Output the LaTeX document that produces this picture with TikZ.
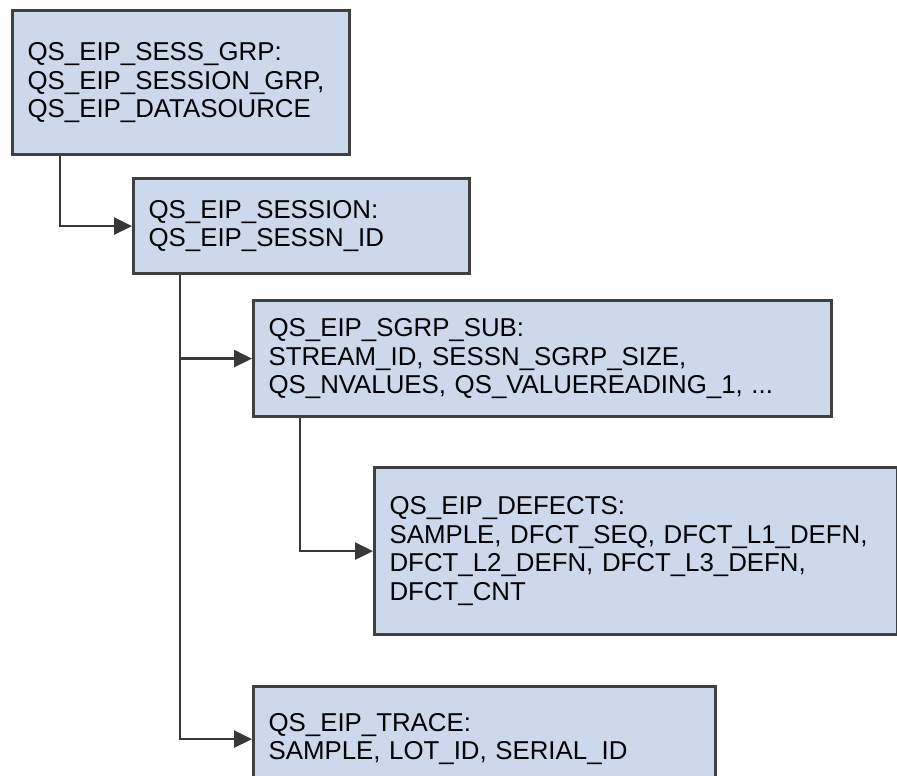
\documentclass[tikz,border=0pt]{standalone}
\usepackage{fontspec}
\setmainfont{Liberation Sans}
\usetikzlibrary{arrows.meta}
\definecolor{cfill}{HTML}{CCD9EB}
\definecolor{cline}{HTML}{404040}
\definecolor{carrow}{HTML}{383838}

\begin{document}
\begin{tikzpicture}[font=\fontsize{14.7}{16.3}\selectfont,
  box/.style={draw=cline, fill=cfill, line width=1.8pt, anchor=north west,
    inner xsep=0.3cm, inner ysep=0pt, align=left},
  arr/.style={-{Triangle[length=0.36cm, width=0.34cm]}, carrow, line width=1.6pt}]

\useasboundingbox (0,0) rectangle (17.94,-15.52);

% ---- tables, top to bottom (1px = 0.02cm)
\node[box, text width=6.14cm, minimum height=2.88cm] (grp) at (0.22,-0.18)
  {QS\_EIP\_SESS\_GRP:\\ QS\_EIP\_SESSION\_GRP,\\ QS\_EIP\_DATASOURCE};
\node[box, text width=6.12cm, minimum height=1.90cm] (sess) at (2.64,-3.54)
  {QS\_EIP\_SESSION:\\ QS\_EIP\_SESSN\_ID};
\node[box, text width=10.96cm, minimum height=2.32cm] (sub) at (5.04,-5.98)
  {QS\_EIP\_SGRP\_SUB:\\ STREAM\_ID, SESSN\_SGRP\_SIZE,\\ QS\_NVALUES, QS\_VALUEREADING\_1, ...};
\node[box, text width=9.86cm, minimum height=3.34cm] (dfct) at (7.46,-9.32)
  {QS\_EIP\_DEFECTS:\\ SAMPLE, DFCT\_SEQ, DFCT\_L1\_DEFN,\\ DFCT\_L2\_DEFN, DFCT\_L3\_DEFN,\\ DFCT\_CNT};
\node[box, text width=8.64cm, minimum height=2.10cm] (trace) at (5.04,-13.70)
  {QS\_EIP\_TRACE:\\ SAMPLE, LOT\_ID, SERIAL\_ID};

% ---- parent -> child links
\draw[arr] ([xshift=0.98cm]grp.south west) |- (sess.west);
\draw[arr] ([xshift=0.96cm]sess.south west) |- (sub.west);
\draw[arr] ([xshift=0.96cm]sess.south west) |- (trace.west);
\draw[arr] ([xshift=0.96cm]sub.south west) |- (dfct.west);
\end{tikzpicture}
\end{document}
